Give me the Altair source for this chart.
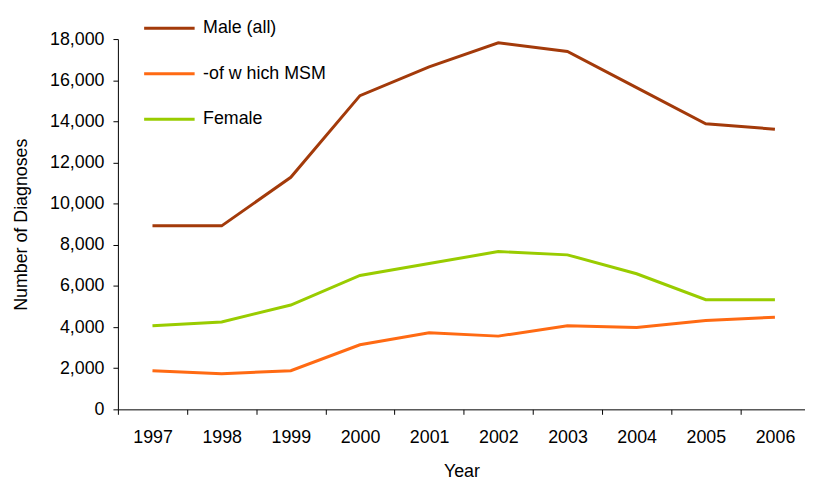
import altair as alt
import pandas as pd

years = [1997, 1998, 1999, 2000, 2001, 2002, 2003, 2004, 2005, 2006]
male_all = [8920, 8920, 11280, 15250, 16650, 17820, 17400, 15640, 13880, 13620]
msm = [1880, 1730, 1880, 3140, 3720, 3560, 4060, 3980, 4320, 4480]
female = [4060, 4250, 5070, 6510, 7090, 7670, 7510, 6590, 5330, 5330]

series_names = ["Male (all)", "\u00a0-of w hich MSM", "Female"]
series_colors = ["#A33A0A", "#FF6A13", "#99CC00"]

rows = []
for name, vals in zip(series_names, [male_all, msm, female]):
    for y, v in zip(years, vals):
        rows.append({"Year": y, "Value": v, "Series": name})
df = pd.DataFrame(rows)

FONT = "Liberation Sans"

chart = alt.Chart(df).mark_line(strokeWidth=3).encode(
    x=alt.X(
        "Year:Q",
        scale=alt.Scale(domain=[1996.5, 2006.435], nice=False, zero=False),
        axis=alt.Axis(
            title="Year",
            values=[1996.5 + i for i in range(10)],
            labelExpr="format(datum.value + 0.5, 'd')",
            labelOffset=35,
            labelFlush=False,
            labelBound=False,
            grid=False,
            tickSize=5,
            labelPadding=14,
            titlePadding=17,
        ),
    ),
    y=alt.Y(
        "Value:Q",
        scale=alt.Scale(domain=[0, 18000], nice=False),
        axis=alt.Axis(
            title="Number of Diagnoses",
            values=list(range(0, 18001, 2000)),
            format=",d",
            grid=False,
            tickSize=5,
            labelPadding=9,
            titlePadding=19,
        ),
    ),
    color=alt.Color(
        "Series:N",
        scale=alt.Scale(domain=series_names, range=series_colors),
        sort=series_names,
        legend=alt.Legend(
            title=None,
            orient="none",
            legendX=25,
            legendY=-38,
            symbolType="stroke",
            symbolSize=2601,
            symbolStrokeWidth=3,
            labelFontSize=18,
            labelFont=FONT,
            labelColor="#000000",
            labelOffset=7,
            rowPadding=10,
            padding=0,
            labelLimit=300,
        ),
    ),
).properties(
    width=694,
    height=374,
    autosize=alt.AutoSizeParams(type="none"),
    padding={"left": 111, "top": 29, "right": 0, "bottom": 71},
).configure_view(
    stroke=None
).configure_axis(
    labelFont=FONT,
    titleFont=FONT,
    labelFontSize=18,
    titleFontSize=18,
    titleFontWeight="normal",
    labelColor="#000000",
    titleColor="#000000",
    domainColor="#000000",
    tickColor="#000000",
    domainWidth=1,
    tickWidth=1,
)

chart.save("out.html", embed_options={"renderer": "svg", "actions": False})
